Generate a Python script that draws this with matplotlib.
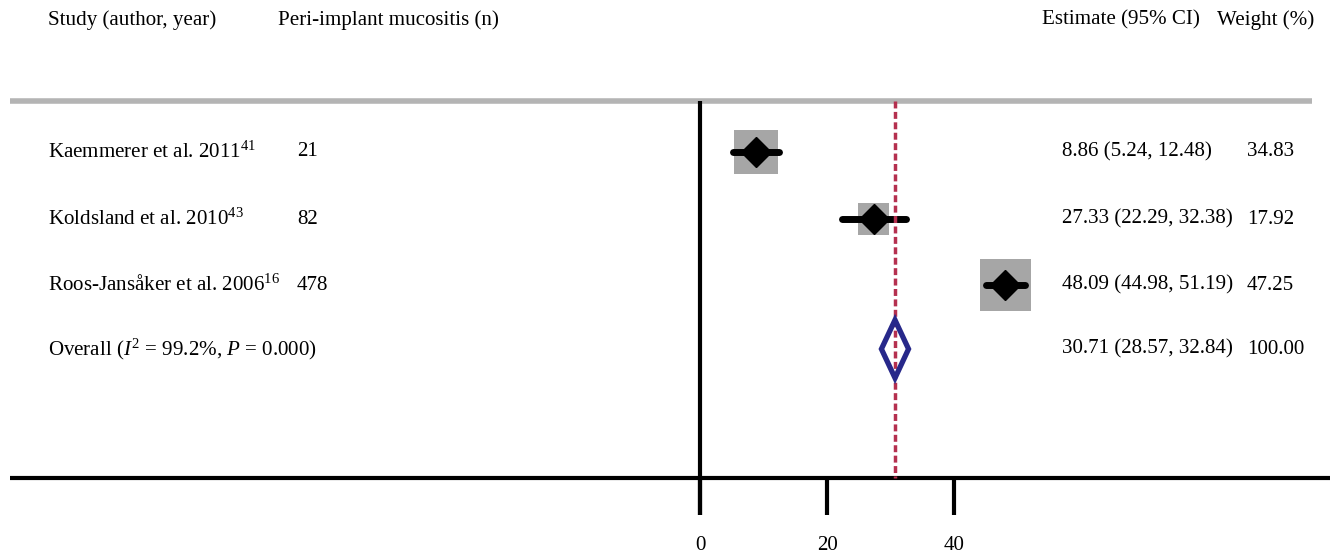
import matplotlib.pyplot as plt
from matplotlib.patches import Rectangle, Polygon
import numpy as np

plt.rcParams['font.family'] = ['Liberation Serif', 'DejaVu Serif']
plt.rcParams['mathtext.fontset'] = 'custom'
plt.rcParams['mathtext.rm'] = 'Liberation Serif'
plt.rcParams['mathtext.it'] = 'Liberation Serif:italic'

# data
studies = ['Kaemmerer et al. 2011$^{41}$', 'Koldsland et al. 2010$^{43}$',
           'Roos-Jansåker et al. 2006$^{16}$']
n_cases = ['21', '82', '478']
est = [8.86, 27.33, 48.09]
lo = [5.24, 22.29, 44.98]
hi = [12.48, 32.38, 51.19]
weights = [34.83, 17.92, 47.25]
overall = [30.71, 28.57, 32.84]
overall_label = 'Overall ($I^2$ = 99.2%, $P$ = 0.000)'
xticks = [0, 20, 40]

# layout (x in estimate units, y in pixel rows)
px = 6.35  # pixels per unit
def xu(p):
    return (p - 700) / px

row_y = [152, 219, 285, 349]
fs = 15.1

fig = plt.figure(figsize=(13.3, 5.57), dpi=100)
ax = fig.add_axes([0, 0, 1, 1])
ax.set_xlim(xu(0), xu(1330))
ax.set_ylim(557, 0)
ax.axis('off')

# header
ax.text(xu(48), 20, 'Study (author, year)', fontsize=fs, va='center')
ax.text(xu(278), 20, 'Peri-implant mucositis (n)', fontsize=fs, va='center')
ax.text(xu(1042), 20, 'Estimate (95% CI)', fontsize=fs, va='center')
ax.text(xu(1217), 20, 'Weight (%)', fontsize=fs, va='center')

# rules
ax.plot([xu(10), xu(1312)], [101, 101], color='#b4b4b4', lw=4, solid_capstyle='butt')
ax.plot([xu(10), xu(1330)], [478, 478], color='black', lw=3, solid_capstyle='butt')
ax.plot([0, 0], [101, 515], color='black', lw=3, solid_capstyle='butt')
for t in xticks:
    ax.plot([t, t], [478, 515], color='black', lw=3, solid_capstyle='butt')
    ax.text(t, 546, str(t), fontsize=fs, ha='center', va='center')

# studies
for i in range(len(est)):
    y = row_y[i]
    side = 7.5 * np.sqrt(weights[i])
    ax.add_patch(Rectangle((est[i] - side / px / 2, y - side / 2), side / px, side,
                           facecolor='#a6a6a6', edgecolor='none', zorder=2))
    ax.plot([lo[i], hi[i]], [y, y], color='black', lw=5, solid_capstyle='round', zorder=3)
    ax.plot(est[i], y, marker='D', color='black', markersize=15, zorder=4)
    ax.text(xu(48), y, studies[i], fontsize=fs, va='center')
    ax.text(xu(297), y, n_cases[i], fontsize=fs, va='center')
    ax.text(xu(1062), y, f'{est[i]:.2f} ({lo[i]:.2f}, {hi[i]:.2f})', fontsize=fs, va='center')
    ax.text(xu(1247), y, f'{weights[i]:.2f}', fontsize=fs, va='center')

# overall
y = row_y[3]
dia = [(overall[1], y), (overall[0], y - 29), (overall[2], y), (overall[0], y + 29)]
ax.add_patch(Polygon(dia, closed=True, facecolor='white', edgecolor='none', zorder=2))
ax.plot([overall[0], overall[0]], [101, 478], color='#b5304f', lw=2.5,
        linestyle=(0, (2, 1)), zorder=3)
ax.add_patch(Polygon(dia, closed=True, facecolor='none', edgecolor='#27288a',
                     lw=3.8, joinstyle='miter', zorder=4))
ax.text(xu(48), y, overall_label, fontsize=fs, va='center')
ax.text(xu(1062), y, f'{overall[0]:.2f} ({overall[1]:.2f}, {overall[2]:.2f})', fontsize=fs, va='center')
ax.text(xu(1247), y, '100.00', fontsize=fs, va='center')

fig.savefig('out.png', dpi=100)
